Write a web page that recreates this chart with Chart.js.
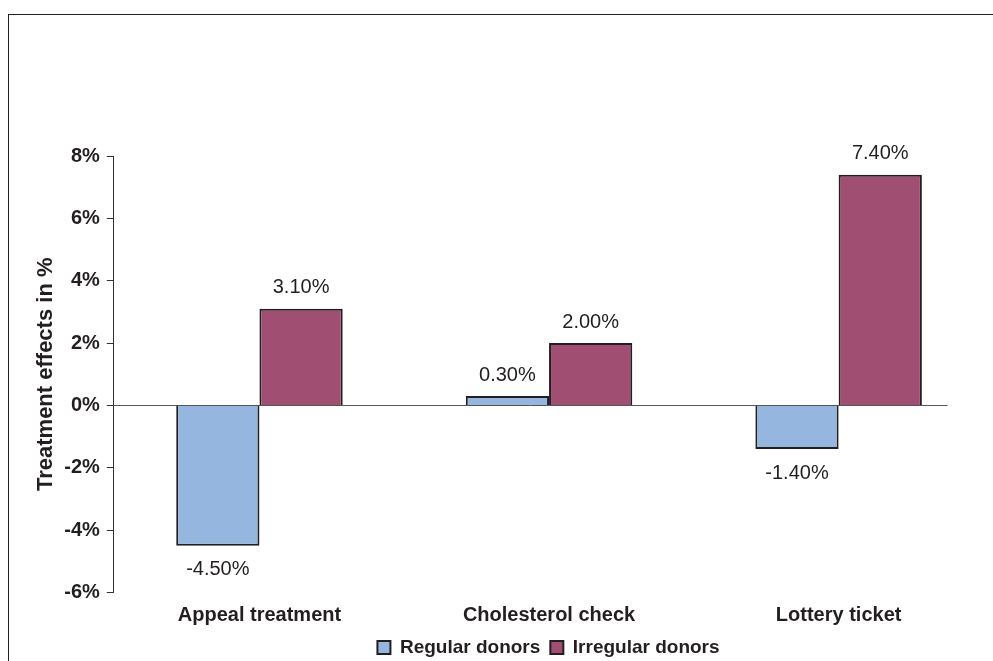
<!DOCTYPE html>
<html>
<head>
<meta charset="utf-8">
<script src="https://cdn.jsdelivr.net/npm/chart.js@4/dist/chart.umd.min.js"></script>
<style>
  html, body { margin: 0; padding: 0; background: #fff; overflow: hidden; }
  #frame {
    position: absolute; left: 8px; top: 14px;
    width: 1079px; height: 700px;
    border: 1.5px solid #231f20;
    background: #fff;
  }
  #c { display: block; }
</style>
</head>
<body>
<div id="frame"><canvas id="c" width="1079" height="652"></canvas></div>
<script>
// Treatment effects on donation rates, by incentive and donor group (in %)
const categories = ['Appeal treatment', 'Cholesterol check', 'Lottery ticket'];
const regularDonors = [-4.5, 0.3, -1.4];
const irregularDonors = [3.1, 2.0, 7.4];
const yTicks = [-6, -4, -2, 0, 2, 4, 6, 8];

const FONT = "'Liberation Sans', Arial, Helvetica, sans-serif";
const INK = '#231f20';

Chart.defaults.font.family = FONT;
Chart.defaults.color = INK;

// Value labels placed just past the end of each bar
const valueLabels = {
  id: 'valueLabels',
  afterDatasetsDraw(chart) {
    const ctx = chart.ctx;
    ctx.save();
    ctx.font = '20px ' + FONT;
    ctx.fillStyle = INK;
    ctx.textAlign = 'center';
    ctx.textBaseline = 'middle';
    chart.data.datasets.forEach((ds, i) => {
      chart.getDatasetMeta(i).data.forEach((bar, j) => {
        const v = ds.data[j].y;
        const y = v >= 0 ? bar.y - 21 : bar.y + 24;
        ctx.fillText(v.toFixed(2) + '%', bar.x, y);
      });
    });
    ctx.restore();
  }
};

const toPoints = arr => arr.map((v, i) => ({ x: i, y: v }));

new Chart(document.getElementById('c'), {
  type: 'bar',
  data: {
    datasets: [
      {
        label: 'Regular donors',
        data: toPoints(regularDonors),
        backgroundColor: '#95b6df',
        borderColor: INK,
        borderWidth: 2,
        categoryPercentage: 0.575,
        barPercentage: 1
      },
      {
        label: 'Irregular donors',
        data: toPoints(irregularDonors),
        backgroundColor: '#a04f72',
        borderColor: INK,
        borderWidth: 2,
        categoryPercentage: 0.575,
        barPercentage: 1
      }
    ]
  },
  options: {
    responsive: false,
    animation: false,
    devicePixelRatio: 1,
    layout: { padding: { left: 0, right: 0, top: 141, bottom: 0 } },
    plugins: {
      legend: {
        position: 'bottom',
        fullSize: true,
        labels: {
          boxWidth: 13,
          boxHeight: 13,
          padding: 10,
          color: INK,
          font: { size: 19, weight: 'bold', family: FONT }
        }
      },
      tooltip: { enabled: false }
    },
    scales: {
      x: {
        type: 'linear',
        offset: false,
        min: -0.503,
        max: 2.376,
        afterBuildTicks: scale => {
          scale.ticks = categories.map((_, i) => ({ value: i }));
        },
        afterFit: scale => { scale.height = 35.5; },
        ticks: {
          callback: v => categories[v] ?? '',
          padding: 11,
          maxRotation: 0,
          autoSkip: false,
          color: INK,
          font: { size: 20, weight: 'bold', family: FONT }
        },
        grid: { display: false, drawTicks: false, tickLength: 0 },
        border: { display: false }
      },
      y: {
        min: -6,
        max: 8,
        afterBuildTicks: scale => {
          scale.ticks = yTicks.map(v => ({ value: v }));
        },
        afterFit: scale => { scale.width = 104.8; },
        ticks: {
          callback: v => v + '%',
          padding: 7,
          color: INK,
          font: { size: 20, weight: 'bold', family: FONT }
        },
        grid: {
          drawOnChartArea: true,
          drawTicks: true,
          tickLength: 7,
          tickColor: '#333',
          color: ctx => (ctx.tick && ctx.tick.value === 0 ? '#555' : 'rgba(0,0,0,0)'),
          lineWidth: 1
        },
        border: { display: true, color: '#333', width: 1 },
        title: {
          display: true,
          text: 'Treatment effects in %',
          color: INK,
          padding: { top: 23.3, bottom: 4 },
          font: { size: 22, weight: 'bold', family: FONT }
        }
      },
      // empty right-hand margin of the plot inside the frame
      gutter: {
        type: 'linear',
        position: 'right',
        display: true,
        afterFit: scale => { scale.width = 140.5; },
        ticks: { display: false },
        grid: { display: false },
        border: { display: false }
      }
    }
  },
  plugins: [valueLabels]
});
</script>
</body>
</html>
